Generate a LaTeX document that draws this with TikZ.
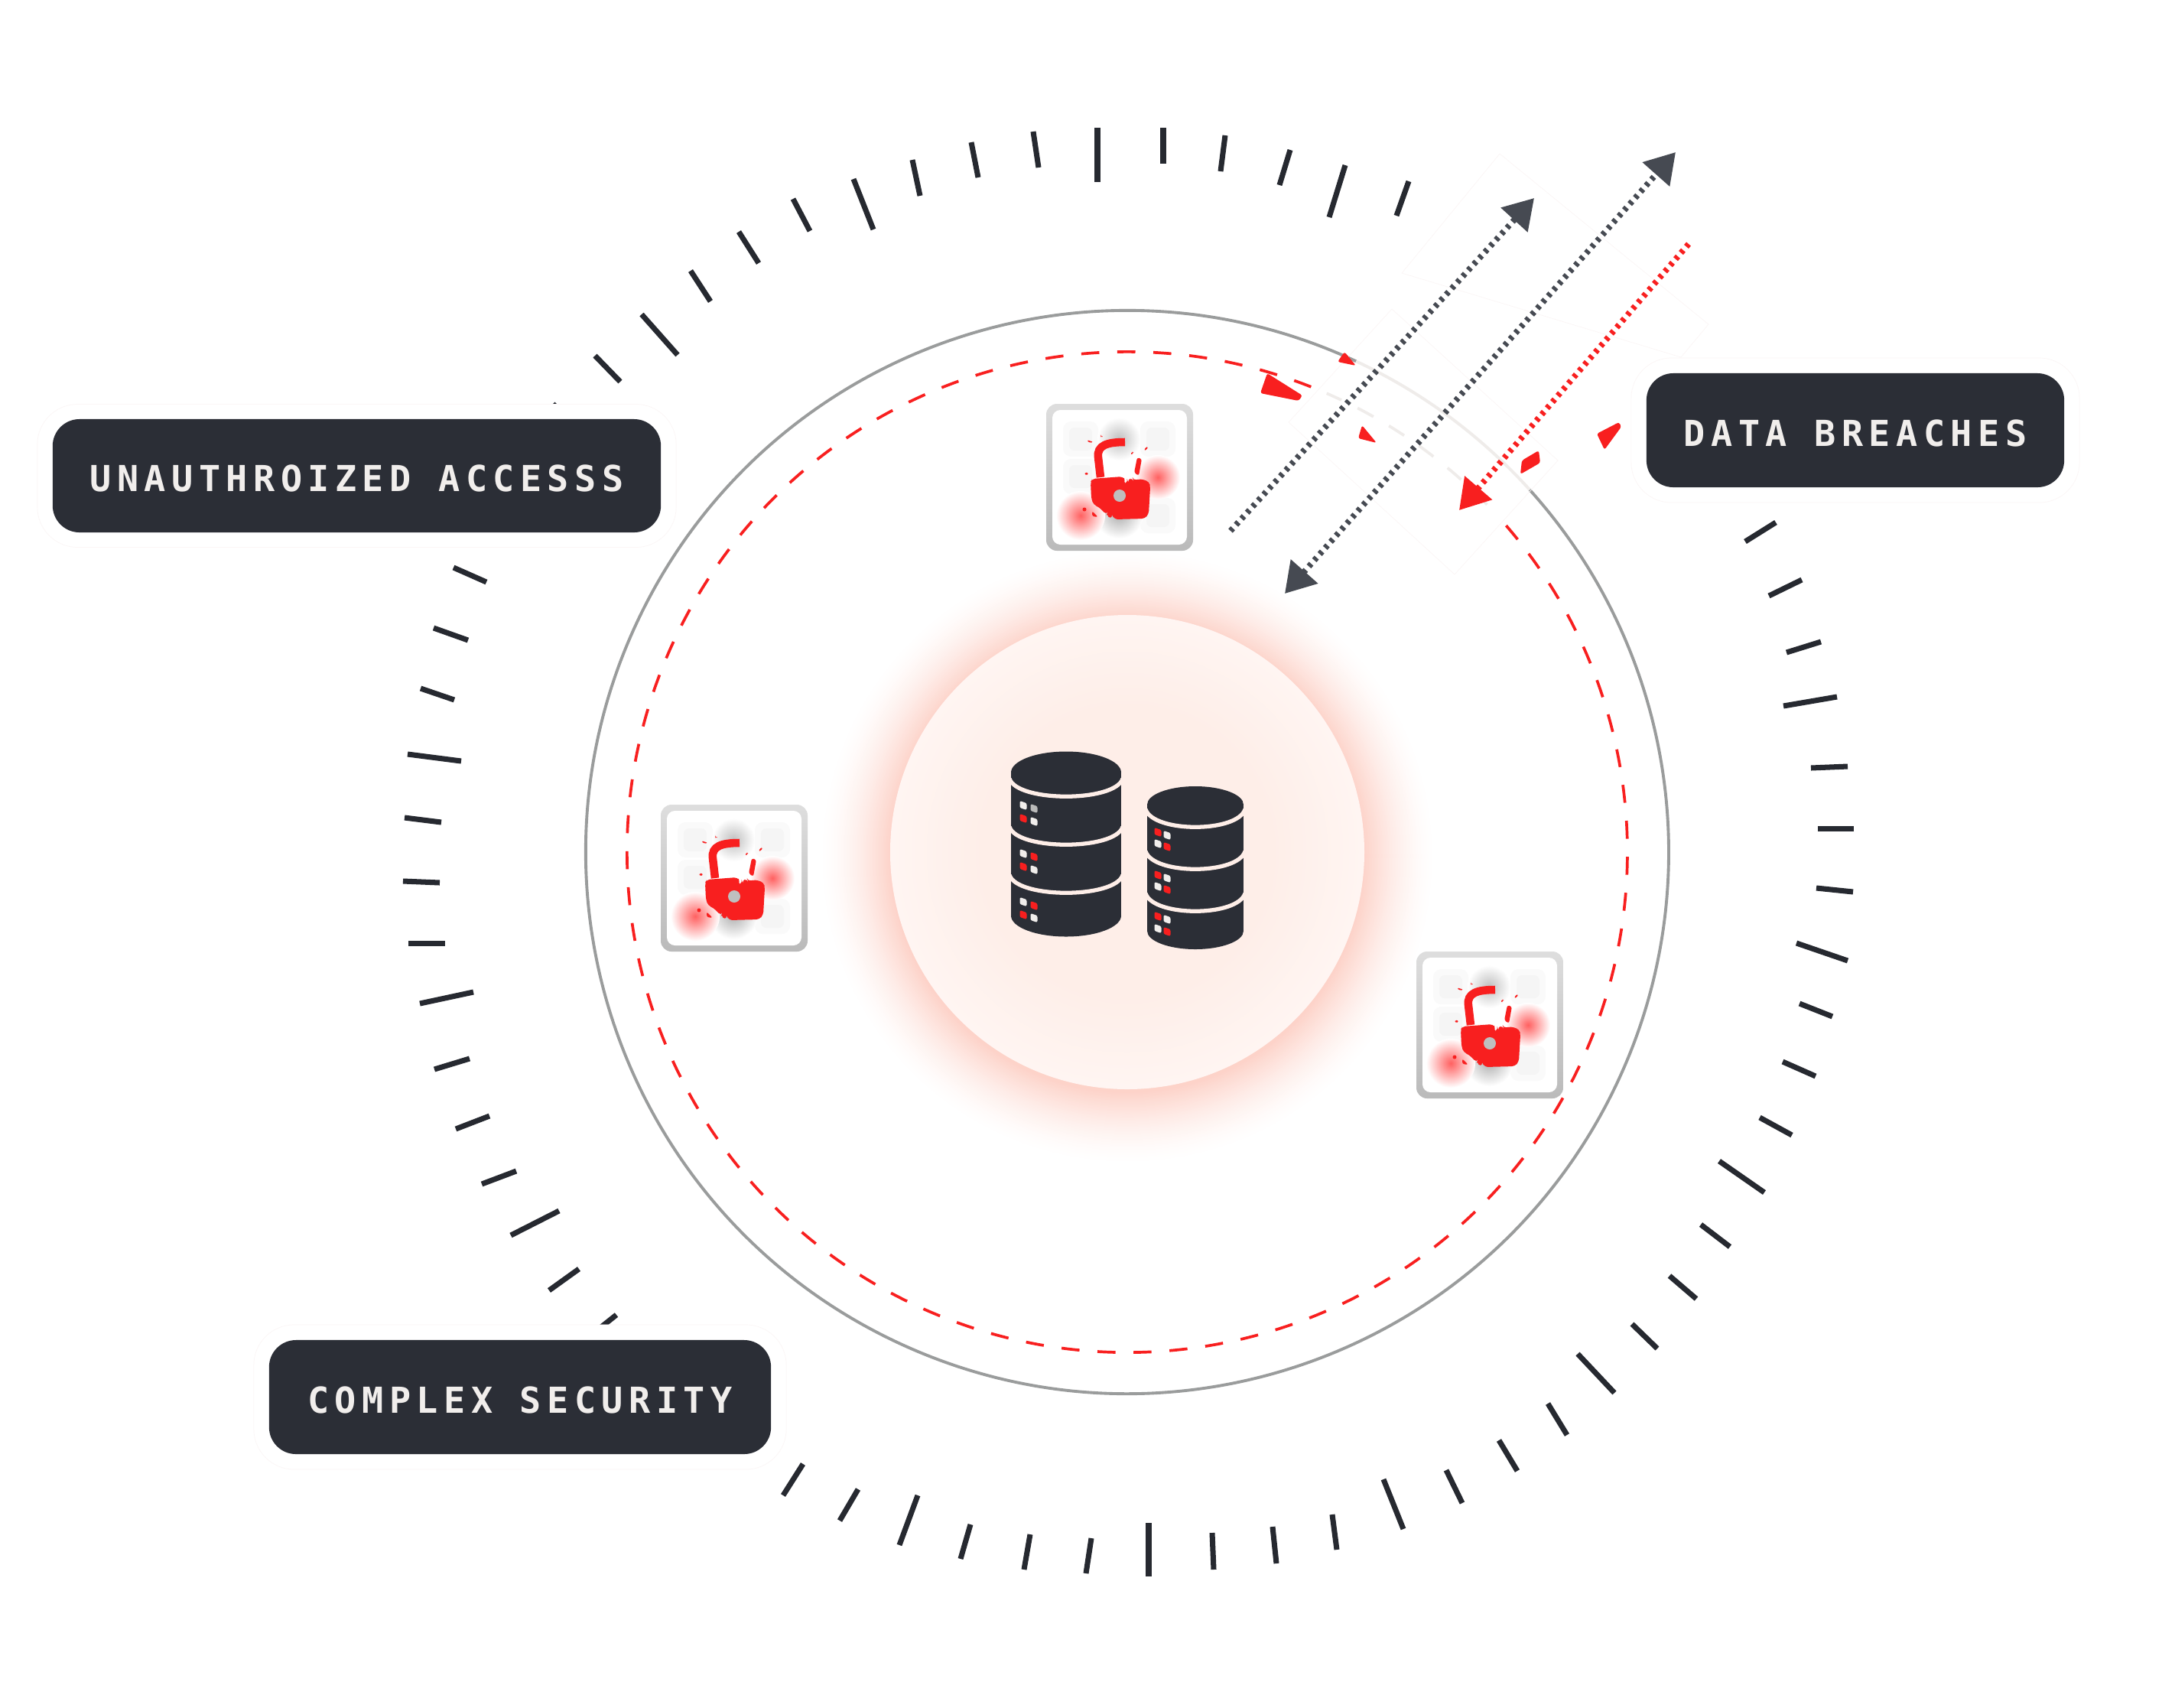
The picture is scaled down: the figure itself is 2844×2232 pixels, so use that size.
\documentclass[tikz,border=0pt]{standalone}
\usepackage{fontspec}
\setmonofont[LetterSpace=16]{DejaVu Sans Mono}
\usetikzlibrary{arrows.meta%
              }
\definecolor{inkdark}{HTML}{2B2E36}
\definecolor{tickdark}{HTML}{262930}
\definecolor{arrowgray}{HTML}{464A52}
\definecolor{alertred}{HTML}{F81F1F}
\definecolor{ringgray}{HTML}{9A9C9C}
\definecolor{fadegray}{HTML}{EFECEA}
\definecolor{corecream}{HTML}{FEEEE8}
\definecolor{coreedge}{HTML}{FFF5F2}
\definecolor{labelcream}{HTML}{F1EEEC}
\definecolor{ghostline}{HTML}{FBF6F6}
\definecolor{glowa}{HTML}{FDD3C9}
\tikzset{%
  tick/.style={tickdark, line width=2pt},
  issue/.style={rectangle, rounded corners=10pt, fill=inkdark, text=labelcream,%
    font=\ttfamily\bfseries\fontsize{13.3pt}{16pt}\selectfont, inner sep=0pt},
  halo/.style={rectangle, rounded corners=15pt, fill=white, draw=ghostline,%
    line width=0.2pt, inner sep=0pt},
  flow/.style={line width=2.2pt, dash pattern=on 1.3pt off 1.75pt},
  flowhead/.style={-{Triangle[length=11pt,width=13pt]}},
  lockframe/.style={rectangle, rounded corners=4pt, top color=black!13,%
    bottom color=black!27, minimum size=54.6pt, inner sep=0pt},
  sliver/.style={alertred, rounded corners=0.8pt}
}
% outer x/y and inner x/y of every tick round the ring
\def\setofticks{1435/167/1435/238, 1351/172/1358/219, 1270/186/1279/232,
  1193/209/1203/256, 1116/234/1142/300, 1037/260/1059/302, 966/303/992/344,
  903/354/929/394, 839/411/886/464, 778/465/811/499, 723/528/757/563,
  593/742/636/761, 567/821/612/837, 550/900/594/915, 533/986/603/995,
  529/1069/577/1075, 527/1152/575/1154, 534/1233/582/1233, 549/1312/619/1297,
  568/1398/614/1384, 596/1476/640/1459, 630/1548/675/1531, 668/1615/731/1583,
  718/1687/757/1659, 771/1747/806/1719, 1024/1955/1050/1914, 1098/1988/1122/1947,
  1176/2020/1200/1955, 1256/2038/1269/1993, 1339/2052/1347/2006, 1420/2057/1427/2011,
  1502/2061/1502/1991, 1587/2052/1585/2004, 1669/2044/1664/1996, 1748/2026/1742/1980,
  1835/1999/1809/1934, 1912/1965/1891/1922, 1984/1923/1960/1883, 2049/1876/2024/1835,
  2111/1821/2063/1770, 2167/1763/2134/1731, 2218/1698/2183/1668, 2262/1630/2224/1601,
  2307/1559/2248/1518, 2343/1484/2301/1461, 2374/1407/2331/1388, 2396/1329/2353/1312,
  2416/1256/2349/1233, 2423/1166/2375/1161, 2424/1083/2377/1083, 2416/1002/2368/1004,
  2402/911/2332/923, 2381/839/2336/853, 2356/758/2313/779, 2322/683/2282/708,
  1842/237/1826/282, 1759/216/1738/284, 1687/196/1673/242, 1602/177/1596/224,
  1521/167/1521/214}
% x/y/n of the cracked lock tiles
\def\setoflocks{1464/624/1, 960/1148/2, 1948/1340/3}
% x/y/colour of the lights on the disks
\def\setoflights{%
  1338/1053/labelcream, 1352/1057/black!27, 1338/1070/alertred, 1352/1074/labelcream,
  1338/1116/labelcream, 1352/1120/alertred, 1338/1133/alertred, 1352/1137/labelcream,
  1338/1179/labelcream, 1352/1184/alertred, 1338/1196/alertred, 1352/1200/labelcream,
  1514/1088/alertred, 1526/1092/labelcream, 1514/1103/labelcream, 1526/1107/alertred,
  1514/1144/alertred, 1526/1148/labelcream, 1514/1159/labelcream, 1526/1163/alertred,
  1514/1198/alertred, 1526/1202/labelcream, 1514/1214/labelcream, 1526/1218/alertred}
\def\drawlock{%
  % blurred keypad behind the padlock
  \foreach \kx/\ky in {-47/-50, 54/-50, -47/-1, 54/50} {%
    \fill[black!2, rounded corners=3pt] (\kx-23,\ky-23) rectangle (\kx+23,\ky+23);
    \fill[black!4, rounded corners=2pt] (\kx-15,\ky-15) rectangle (\kx+15,\ky+15);
  }
  \shade[inner color=black!25, outer color=white] (3,-50) circle (28);
  \shade[inner color=black!32, outer color=white] (3,48) circle (32);
  \shade[inner color=red!62!white, outer color=white] (54,0) circle (29);
  \shade[inner color=red!62!white, outer color=white] (-47,50) circle (32);
  % shackle
  \draw[alertred, line width=3pt] (-21,0) -- (-24,-26)%
    .. controls (-26,-42) and (-12,-46) .. (11,-46);
  % body
  \fill[alertred, rounded corners=1.2pt] (-32,2) -- (8,-1) -- (12,4) -- (9,9) -- (15,6)%
    -- (14,3) -- (21,1) -- (22,4) -- (32,2) -- (43,6) -- (44,13) -- (42,48) -- (37,54)%
    -- (-3,55) -- (-5,49) -- (-12,46) -- (-13,49) -- (-23,39) -- (-30,36) -- (-33,28)%
    -- (-34,6) -- cycle;
  \fill[black!25] (4,24) circle (8);
  % broken pieces
  \fill[sliver] (27,-26) -- (33,-24) -- (29,-2) -- (23,-6) -- cycle;
  \fill[sliver] (-39,-49) -- (-30,-46) -- (-36,-45) -- cycle;
  \fill[sliver] (-21,-55) -- (-17,-53) -- (-21,-53) -- cycle;
  \fill[sliver] (-43,-5) -- (-37,-7) -- (-38,-2) -- cycle;
  \fill[sliver] (38,-40) -- (42,-39) -- (36,-34) -- cycle;
  \fill[sliver] (20,-34) -- (23,-32) -- (18,-29) -- cycle;
  \fill[sliver] (-32,44) -- (-24,52) -- (-32,51) -- cycle;
  \fill[sliver] (-10,44) -- (-5,49) -- (-8,54) -- (-13,49) -- cycle;
  \fill[sliver] (-42,42) circle (2.5);
}
\begin{document}
\begin{tikzpicture}[x=0.01cm,y=-0.01cm]
    \useasboundingbox (0,0) rectangle (2844,2232);
    \fill[white] (0,0) rectangle (2844,2232);

    %% DRAW TICKS
    \foreach \xa/\ya/\xb/\yb in \setofticks {%
      \draw[tick] (\xa,\ya) -- (\xb,\yb);
    }

    %% DRAW RINGS
    \begin{scope}[shift={(1474,1114)},y=0.01cm]
      \coordinate (core) at (0,0);
      % glow, then the disc, as stacked circles
      \foreach \r in {404,402,...,310} {%
        \pgfmathsetmacro{\glowmix}{100*((404-\r)/94)^1.6}%
        \fill[glowa!\glowmix!white] (0,-6*\r/404+0) circle (\r);
      }
      \foreach \r in {310,306,...,190} {%
        \pgfmathsetmacro{\discmix}{100*(310-\r)/120}%
        \fill[corecream!\discmix!coreedge] (core) circle (\r);
      }
      \draw[ringgray, line width=1.1pt] (65:708) arc[start angle=65, end angle=402, radius=708];
      \draw[fadegray, line width=1.1pt] (42:708) arc[start angle=42, end angle=65, radius=708];
      \draw[alertred, line width=1.05pt, dash pattern=on 6.7pt off 6.7pt, dash phase=7.1pt]%
        (66.5:654) arc[start angle=66.5, end angle=401.8, radius=654];
      \draw[fadegray, line width=1.05pt, dash pattern=on 6.7pt off 6.7pt]%
        (44:654) arc[start angle=44, end angle=66.5, radius=654];
    \end{scope}

    %% DRAW DISKS
    % x/rx/top/ry/bottom
    \foreach \dx/\drx/\dtop/\dry/\dbot in {1394/72/1010/27.5/1197, 1563/63/1052/24/1217} {%
      \fill[inkdark] (\dx,\dtop) ellipse [x radius=\drx, y radius=\dry];
      \fill[inkdark] (\dx-\drx,\dtop) rectangle (\dx+\drx,\dbot);
      \fill[inkdark] (\dx,\dbot) ellipse [x radius=\drx, y radius=\dry];
    }
    \foreach \dx/\drx/\dedge in {1394/72/1018, 1394/72/1081, 1394/72/1144,%
        1563/63/1058, 1563/63/1113, 1563/63/1168} {%
      \draw[corecream, line width=1.5pt] (\dx-\drx-2,\dedge)%
        .. controls (\dx-\drx+8,\dedge+31) and (\dx+\drx-8,\dedge+31) .. (\dx+\drx+2,\dedge);
    }
    \foreach \lx/\ly/\lcolor in \setoflights {%
      \fill[\lcolor, rounded corners=0.6pt] (\lx-4.5,\ly-6) -- (\lx+4.5,\ly-3)%
        -- (\lx+4.5,\ly+6) -- (\lx-4.5,\ly+3) -- cycle;
    }

    %% DRAW LOCKS
    \foreach \x/\y/\n in \setoflocks {%
      \node[lockframe] (lock\n) at (\x,\y) {};
      \begin{scope}[shift={(\x,\y)}]
        \fill[white, rounded corners=3pt] (-88,-88) rectangle (88,88);
        \begin{scope}[shift={(-4,0)}]
          \drawlock
        \end{scope}
      \end{scope}
    }

    %% DRAW LABELS
    \node[halo, minimum width=835*0.2845pt, minimum height=187*0.2845pt] (halounauth) at (466.5,622) {};
    \node[halo, minimum width=696*0.2845pt, minimum height=189*0.2845pt] (halocomplex) at (680,1826.5) {};
    \node[halo, minimum width=586*0.2845pt, minimum height=189*0.2845pt] (halodata) at (2426,562.5) {};
    \node[issue, minimum width=795*0.2845pt, minimum height=148*0.2845pt] (unauth) at (466.5,622) {\raisebox{-1pt}[\height][0pt]{UNAUTHROIZED ACCESSS}};
    \node[issue, minimum width=656*0.2845pt, minimum height=149*0.2845pt] (complex) at (680,1826.5) {\raisebox{-1pt}[\height][0pt]{COMPLEX SECURITY}};
    \node[issue, minimum width=546*0.2845pt, minimum height=149*0.2845pt] (data) at (2426,562.5) {\raisebox{-1pt}[\height][0pt]{DATA BREACHES}};

    %% DRAW FLOWS
    \draw[ghostline, line width=0.2pt] (1961,201) -- (2234,424) -- (2198,467) -- (1833,357) -- cycle;
    \draw[ghostline, line width=0.2pt] (1820,404) -- (2037,602) -- (1902,751) -- (1685,552) -- cycle;
    \coordinate (readfrom) at (1609,694);
    \coordinate (readto) at (2006,259);
    \coordinate (synca) at (1680,776);
    \coordinate (syncb) at (2191,199);
    \coordinate (leakfrom) at (2208,319);
    \coordinate (leakto) at (1908,667);
    \draw[flow, flowhead, arrowgray] (readfrom) -- (readto);
    \draw[flow, {Triangle[length=11pt,width=13pt]}-{Triangle[length=11pt,width=13pt]}, arrowgray] (synca) -- (syncb);
    \draw[flow, flowhead, alertred] (leakfrom) -- (leakto);

    %% DRAW SPARKS
    \fill[sliver] (1657,488) -- (1703,517) -- (1698,524) -- (1648,514) -- cycle;
    \fill[sliver] (1758,460) -- (1773,478) -- (1749,473) -- cycle;
    \fill[sliver] (1781,556) -- (1800,579) -- (1776,573) -- cycle;
    \fill[sliver] (2012,589) -- (2014,605) -- (1988,620) -- (1990,602) -- cycle;
    \fill[sliver] (2117,552) -- (2120,558) -- (2098,588) -- (2088,567) -- cycle;

  \end{tikzpicture}
\end{document}
